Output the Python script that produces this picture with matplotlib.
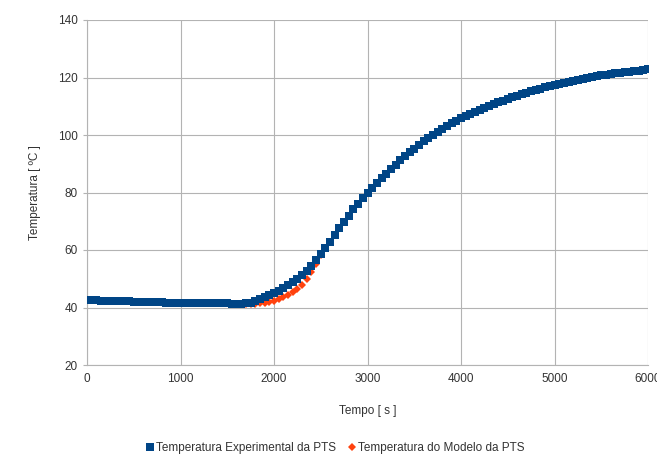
import matplotlib
matplotlib.use("Agg")
import matplotlib.pyplot as plt
import numpy as np

tempo = list(range(0, 6001, 50))

temp_experimental = [
    42.6, 42.5, 42.5, 42.4, 42.3, 42.3, 42.2, 42.2, 42.1, 42.1,
    42.0, 42.0, 41.9, 41.9, 41.8, 41.8, 41.8, 41.7, 41.7, 41.7,
    41.6, 41.6, 41.6, 41.5, 41.5, 41.5, 41.5, 41.4, 41.4, 41.4,
    41.4, 41.3, 41.3, 41.3, 41.4, 41.7, 42.2, 42.8, 43.5, 44.2,
    45.0, 45.9, 46.8, 47.8, 48.8, 49.9, 51.2, 52.8, 54.6, 56.6,
    58.7, 60.8, 62.9, 65.2, 67.5, 69.8, 72.0, 74.1, 76.1, 78.0,
    79.8, 81.6, 83.3, 85.0, 86.6, 88.2, 89.7, 91.2, 92.6, 94.0,
    95.3, 96.6, 97.8, 99.0, 100.1, 101.2, 102.2, 103.2, 104.1, 105.0,
    105.8, 106.6, 107.4, 108.1, 108.8, 109.5, 110.2, 110.8, 111.4, 112.0,
    112.6, 113.1, 113.7, 114.2, 114.7, 115.2, 115.7, 116.1, 116.6, 117.0,
    117.4, 117.8, 118.2, 118.5, 118.9, 119.2, 119.5, 119.8, 120.1, 120.4,
    120.7, 120.9, 121.2, 121.4, 121.6, 121.8, 122.0, 122.2, 122.4, 122.6,
    122.8,
]

temp_modelo = [
    42.6, 42.5, 42.5, 42.4, 42.3, 42.3, 42.2, 42.2, 42.1, 42.1,
    42.0, 42.0, 41.9, 41.9, 41.8, 41.8, 41.8, 41.7, 41.7, 41.7,
    41.6, 41.6, 41.6, 41.5, 41.5, 41.5, 41.5, 41.4, 41.4, 41.4,
    41.4, 41.3, 41.3, 41.3, 41.3, 41.3, 41.3, 41.4, 41.6, 41.9,
    42.3, 42.8, 43.5, 44.3, 45.3, 46.5, 48.0, 49.9, 52.2, 55.0,
    58.2, 60.8, 62.9, 65.2, 67.5, 69.8, 72.0, 74.1, 76.1, 78.0,
    79.8, 81.6, 83.3, 85.0, 86.6, 88.2, 89.7, 91.2, 92.6, 94.0,
    95.3, 96.6, 97.8, 99.0, 100.1, 101.2, 102.2, 103.2, 104.1, 105.0,
    105.8, 106.6, 107.4, 108.1, 108.8, 109.5, 110.2, 110.8, 111.4, 112.0,
    112.6, 113.1, 113.7, 114.2, 114.7, 115.2, 115.7, 116.1, 116.6, 117.0,
    117.4, 117.8, 118.2, 118.5, 118.9, 119.2, 119.5, 119.8, 120.1, 120.4,
    120.7, 120.9, 121.2, 121.4, 121.6, 121.8, 122.0, 122.2, 122.4, 122.6,
    122.8,
]

x_ticks = [0, 1000, 2000, 3000, 4000, 5000, 6000]
y_ticks = [20, 40, 60, 80, 100, 120, 140]

label_exp = "Temperatura Experimental da PTS"
label_mod = "Temperatura do Modelo da PTS"

plt.rcParams['font.family'] = ['Liberation Sans', 'DejaVu Sans']

fig = plt.figure(figsize=(6.57, 4.59), dpi=100)
ax = fig.add_axes([87/657, 1 - 365/459, (648 - 87)/657, (365 - 20)/459])

blue = '#004586'
orange = '#ff420e'
txt = '#333333'

ax.plot(tempo, temp_modelo, linestyle='none', marker='D', markersize=4,
        color=orange, markeredgewidth=0, label=label_mod, zorder=3)
ax.plot(tempo, temp_experimental, linestyle='none', marker='s', markersize=6.3,
        color=blue, markeredgewidth=0, label=label_exp, zorder=4)

ax.set_xlim(0, 6000)
ax.set_ylim(20, 140)
ax.set_xticks(x_ticks)
ax.set_yticks(y_ticks)
ax.grid(True, color='#b3b3b3', linewidth=0.8)
ax.set_axisbelow(True)
for s in ax.spines.values():
    s.set_visible(False)
ax.spines['left'].set_visible(True)
ax.spines['left'].set_color('#b3b3b3')
ax.spines['left'].set_linewidth(0.8)
ax.spines['bottom'].set_visible(True)
ax.spines['bottom'].set_color('#b3b3b3')
ax.spines['bottom'].set_linewidth(0.8)
ax.tick_params(axis='both', labelsize=8.5, colors='#b3b3b3', labelcolor=txt,
               length=3, width=0.8)
ax.tick_params(axis='x', length=0, pad=6)

ax.set_xlabel("Tempo [ s ]", fontsize=8.5, color=txt, labelpad=14)
ax.set_ylabel("Temperatura [ ºC ]", fontsize=8.5, color=txt, labelpad=12)

handles, labels = ax.get_legend_handles_labels()
leg = fig.legend([handles[1], handles[0]], [labels[1], labels[0]],
                 loc='center', bbox_to_anchor=(335/657, 1 - 448/459),
                 ncol=2, frameon=False, fontsize=8.5, handletextpad=0.1,
                 columnspacing=1.0, handlelength=0.8, borderpad=0)
for t in leg.get_texts():
    t.set_color(txt)

fig.savefig("out.png", dpi=100)
